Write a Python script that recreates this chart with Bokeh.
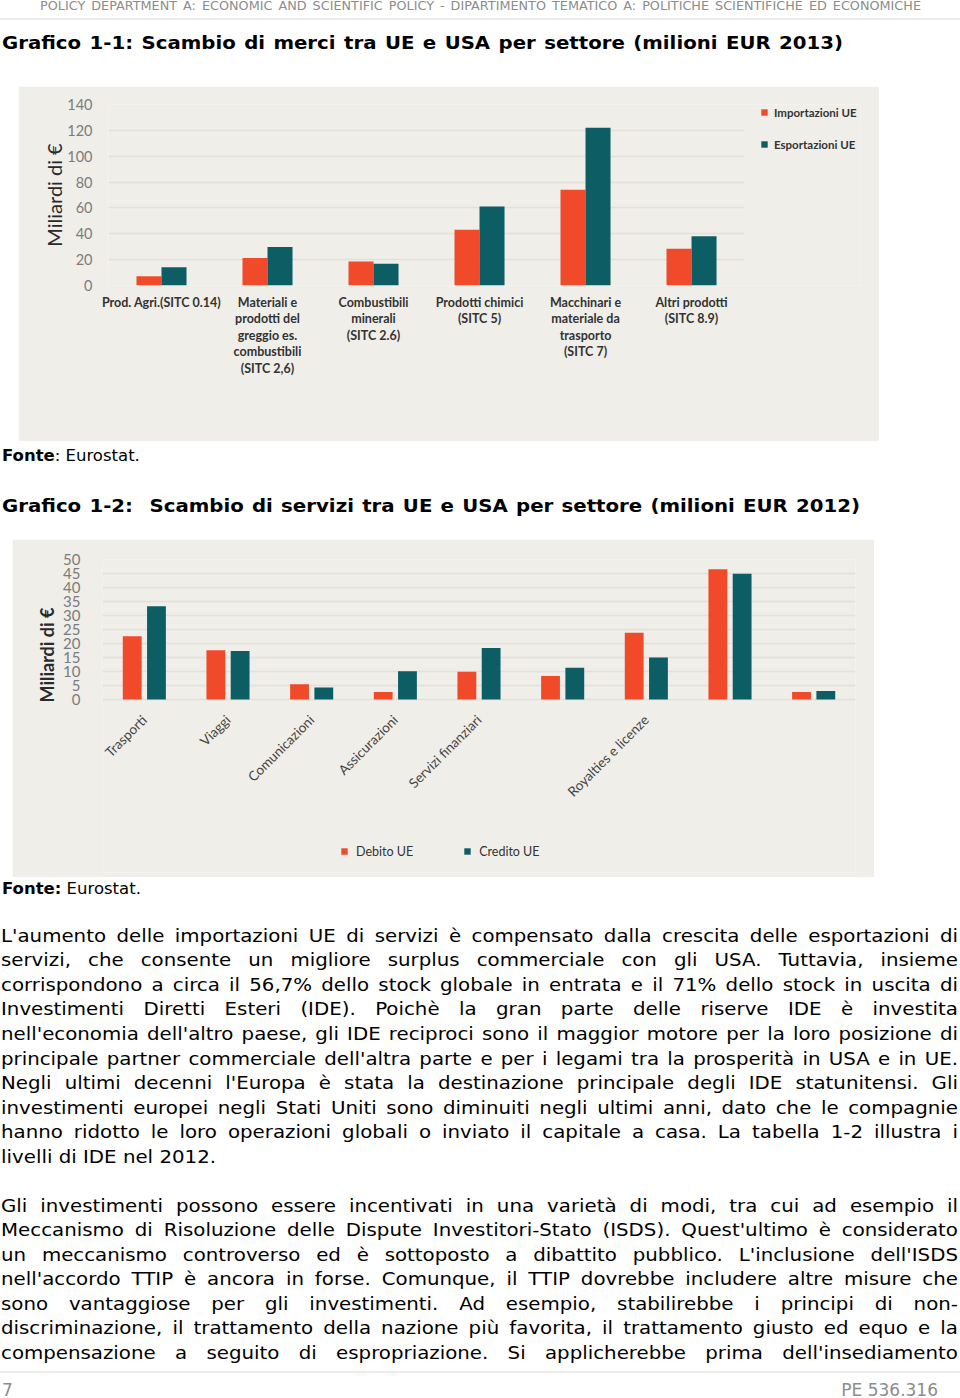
import math
from bokeh.plotting import figure
from bokeh.models import (ColumnDataSource, FixedTicker, Legend, LegendItem, Div, Range1d, Grid, Title)
from bokeh.core.properties import value
from bokeh.layouts import column
from bokeh.transform import dodge
from bokeh.embed import file_html
from bokeh.resources import INLINE

# ---------------- data ----------------
goods_categories = [
    "Prod. Agri.(SITC 0.14)",
    "Materiali e\nprodotti del\ngreggio es.\ncombustibili\n(SITC 2,6)",
    "Combustibili\nminerali\n(SITC 2.6)",
    "Prodotti chimici\n(SITC 5)",
    "Macchinari e\nmateriale da\ntrasporto\n(SITC 7)",
    "Altri prodotti\n(SITC 8.9)",
]
goods_imports = [7.2, 21.2, 18.6, 43.1, 74.1, 28.4]
goods_exports = [14.2, 29.7, 16.8, 61.2, 122.1, 38.0]
goods_yticks = [0, 20, 40, 60, 80, 100, 120, 140]

# three sectors have no visible label in the original: unique blank factors
services_categories = ["Trasporti", "Viaggi", "Comunicazioni", "Assicurazioni", "Servizi finanziari",
                       " ", "Royalties e licenze", "  ", "   "]
services_debit = [22.6, 17.6, 5.4, 2.7, 9.9, 8.4, 23.8, 46.5, 2.7]
services_credit = [33.3, 17.3, 4.3, 10.1, 18.4, 11.3, 15.0, 44.9, 3.0]
services_yticks = [0, 5, 10, 15, 20, 25, 30, 35, 40, 45, 50]

# ---------------- styles ----------------
BG = "#efeee9"
RED = "#f04a2a"
TEAL = "#0d5d65"
GRID = "#e1e0db"
CFONT = "Lato"
PFONT = "DejaVu Sans"
HAS_CROSS = "cross_bounds" in Grid.properties()


def style_axes(p, yticks, ytick_size, ystandoff):
    p.xgrid.grid_line_color = None
    p.ygrid.grid_line_color = GRID
    p.ygrid.grid_line_width = 1.5
    p.ygrid.ticker = FixedTicker(ticks=yticks)
    p.yaxis.ticker = FixedTicker(ticks=yticks)
    for ax in (p.xaxis[0], p.yaxis[0]):
        ax.axis_line_color = None
        ax.major_tick_line_color = None
        ax.minor_tick_line_color = None
    p.yaxis.major_label_text_font = CFONT
    p.yaxis.major_label_text_font_size = ytick_size
    p.yaxis.major_label_text_color = "#7c7c7c"
    p.yaxis.major_label_standoff = ystandoff


# ---------------- chart 1 ----------------
# category slots 0..6 on a numeric axis; the frame continues to the right for the legend
goods_x = [i + 0.5 for i in range(len(goods_categories))]
src1 = ColumnDataSource(dict(x=goods_x, imp=goods_imports, exp=goods_exports))
p1 = figure(x_range=Range1d(0, 7.094), y_range=(0, 140), width=861, height=355,
            output_backend="svg", toolbar_location=None,
            min_border_left=90, min_border_right=0, min_border_top=18, min_border_bottom=156,
            background_fill_color=BG, border_fill_color=BG, outline_line_color=None,
            margin=(0, 0, 0, 18))
r1a = p1.vbar(x=dodge("x", -0.118), top="imp", width=0.236, source=src1, fill_color=RED, line_color=None)
r1b = p1.vbar(x=dodge("x", 0.118), top="exp", width=0.236, source=src1, fill_color=TEAL, line_color=None)
style_axes(p1, goods_yticks, "14.5px", 10)
p1.yaxis.axis_label = "Miliardi di €"
p1.yaxis.axis_label_text_font = CFONT
p1.yaxis.axis_label_text_font_size = "20px"
p1.yaxis.axis_label_text_font_style = "normal"
p1.yaxis.axis_label_text_color = "#2a2a2a"
p1.yaxis.axis_label_standoff = -2
if HAS_CROSS:
    p1.ygrid.cross_bounds = (0, len(goods_categories))
p1.xaxis.ticker = FixedTicker(ticks=goods_x)
p1.xaxis.major_label_overrides = {x: lab for x, lab in zip(goods_x, goods_categories)}
p1.xaxis.major_label_text_font = CFONT
p1.xaxis.major_label_text_font_style = "bold"
p1.xaxis.major_label_text_font_size = "12.5px"
p1.xaxis.major_label_text_color = "#333333"
p1.xaxis.major_label_text_line_height = 1.1
p1.xaxis.major_label_standoff = 3
leg1 = Legend(items=[LegendItem(label="Importazioni UE", renderers=[r1a]),
                     LegendItem(label="Esportazioni UE", renderers=[r1b])],
              location=(652, 133), orientation="vertical",
              label_text_font=CFONT, label_text_font_style="bold", label_text_font_size="11.5px",
              label_text_color="#333333", glyph_width=8, glyph_height=8, label_height=16,
              spacing=16, padding=0, margin=0, label_standoff=6,
              background_fill_alpha=0, border_line_color=None)
p1.add_layout(leg1)

# ---------------- chart 2 ----------------
# frame reaches the bottom of the panel so that the legend sits inside it
src2 = ColumnDataSource(dict(cat=services_categories, deb=services_debit, cre=services_credit,
                             zero=[0] * len(services_categories)))
p2 = figure(x_range=services_categories, y_range=Range1d(-61.8, 50), width=862, height=338,
            output_backend="svg", toolbar_location=None,
            min_border_left=78, min_border_right=19, min_border_top=20, min_border_bottom=5,
            background_fill_color=BG, border_fill_color=BG, outline_line_color=None,
            margin=(0, 0, 0, 12))
r2a = p2.vbar(x=dodge("cat", -0.145, range=p2.x_range), top="deb", width=0.225,
              source=src2, fill_color=RED, line_color=None)
r2b = p2.vbar(x=dodge("cat", 0.145, range=p2.x_range), top="cre", width=0.225,
              source=src2, fill_color=TEAL, line_color=None)
style_axes(p2, services_yticks, "15px", 16)
p2.add_layout(Title(text="Miliardi di €", align="left", offset=170, standoff=6,
                    text_font=CFONT, text_font_size="18px", text_font_style="bold",
                    text_color="#2a2a2a"), "left")
p2.xaxis.visible = False
p2.text(x="cat", y="zero", text="cat", source=src2, angle=math.pi / 4,
        text_align="right", text_baseline="middle", x_offset=0, y_offset=18,
        text_font=value(CFONT), text_font_size="13.5px", text_color="#444444")
leg2 = Legend(items=[LegendItem(label="Debito UE", renderers=[r2a]),
                     LegendItem(label="Credito UE", renderers=[r2b])],
              location=(238, 13), orientation="horizontal",
              label_text_font=CFONT, label_text_font_size="12.5px",
              label_text_color="#333333", glyph_width=8, glyph_height=8, label_height=16,
              spacing=50, padding=0, margin=0, label_standoff=8,
              background_fill_alpha=0, border_line_color=None)
p2.add_layout(leg2)

# ---------------- page text ----------------
_W = {' ': 0.318, 'a': 0.613, 'b': 0.635, 'c': 0.550, 'd': 0.635, 'e': 0.615, 'f': 0.352, 'g': 0.635,
      'h': 0.634, 'i': 0.278, 'j': 0.278, 'k': 0.579, 'l': 0.278, 'm': 0.974, 'n': 0.634, 'o': 0.612,
      'p': 0.635, 'q': 0.635, 'r': 0.411, 's': 0.521, 't': 0.392, 'u': 0.634, 'v': 0.592, 'w': 0.818,
      'x': 0.592, 'y': 0.592, 'z': 0.525, 'A': 0.684, 'B': 0.686, 'C': 0.698, 'D': 0.770, 'E': 0.632,
      'F': 0.575, 'G': 0.775, 'H': 0.752, 'I': 0.295, 'J': 0.295, 'K': 0.656, 'L': 0.557, 'M': 0.863,
      'N': 0.748, 'O': 0.787, 'P': 0.603, 'Q': 0.787, 'R': 0.695, 'S': 0.635, 'T': 0.611, 'U': 0.732,
      'V': 0.684, 'W': 0.989, 'X': 0.685, 'Y': 0.611, 'Z': 0.685, ',': 0.318, '.': 0.318, "'": 0.275,
      '(': 0.390, ')': 0.390, '-': 0.361, '%': 0.950, ':': 0.337}
_ACC = {'è': 'e', 'é': 'e', 'à': 'a', 'ù': 'u', 'ò': 'o', 'ì': 'i'}


def text_w(txt, size, bold=False):
    tot = 0.0
    for ch in txt:
        ch = _ACC.get(ch, ch)
        tot += 0.636 if ch.isdigit() else _W.get(ch, 0.6)
    return tot * size * (1.12 if bold else 1.0)


def line(txt, left, cy, width, size, scale=1.0, lh=24.5, bold=False, color="#000000",
         justify=True, align="left", html=None):
    top = cy - lh / 2
    inner_w = width / scale
    origin = "0 50%" if align == "left" else "100% 50%"
    lft = left if align == "left" else left + width - inner_w
    st = (f"position:absolute;left:{lft:.2f}px;top:{top:.2f}px;width:{inner_w:.2f}px;height:{lh}px;"
          f"line-height:{lh}px;font-size:{size}px;color:{color};font-family:'{PFONT}';"
          f"font-weight:{'bold' if bold else 'normal'};transform:scaleX({scale:.4f});"
          f"transform-origin:{origin};")
    if justify:
        st += "text-align:justify;text-align-last:justify;"
    else:
        st += f"white-space:nowrap;text-align:{align};"
    return f'<div style="{st}">{html if html else txt}</div>'


def fit_scale(texts, width, size, bold=False, smax=1.3):
    return min([smax] + [0.975 * width / text_w(t, size, bold) for t in texts])


def rule(top):
    return f'<div style="position:absolute;left:0px;top:{top}px;width:960px;height:2px;background:#ececec;"></div>'


def block(parts, h):
    return f'<div style="position:relative;width:960px;height:{h}px;overflow:visible;">' + "".join(parts) + "</div>"


header = "POLICY DEPARTMENT A: ECONOMIC AND SCIENTIFIC POLICY - DIPARTIMENTO TEMATICO A: POLITICHE SCIENTIFICHE ED ECONOMICHE"
title1 = "Grafico 1-1: Scambio di merci tra UE e USA per settore (milioni EUR 2013)"
title2 = "Grafico 1-2:  Scambio di servizi tra UE e USA per settore (milioni EUR 2012)"

para1 = [
    "L'aumento delle importazioni UE di servizi è compensato dalla crescita delle esportazioni di",
    "servizi, che consente un migliore surplus commerciale con gli USA. Tuttavia, insieme",
    "corrispondono a circa il 56,7% dello stock globale in entrata e il 71% dello stock in uscita di",
    "Investimenti Diretti Esteri (IDE). Poichè la gran parte delle riserve IDE è investita",
    "nell'economia dell'altro paese, gli IDE reciproci sono il maggior motore per la loro posizione di",
    "principale partner commerciale dell'altra parte e per i legami tra la prosperità in USA e in UE.",
    "Negli ultimi decenni l'Europa è stata la destinazione principale degli IDE statunitensi. Gli",
    "investimenti europei negli Stati Uniti sono diminuiti negli ultimi anni, dato che le compagnie",
    "hanno ridotto le loro operazioni globali o inviato il capitale a casa. La tabella 1-2 illustra i",
    "livelli di IDE nel 2012.",
]
para2 = [
    "Gli investimenti possono essere incentivati in una varietà di modi, tra cui ad esempio il",
    "Meccanismo di Risoluzione delle Dispute Investitori-Stato (ISDS). Quest'ultimo è considerato",
    "un meccanismo controverso ed è sottoposto a dibattito pubblico. L'inclusione dell'ISDS",
    "nell'accordo TTIP è ancora in forse. Comunque, il TTIP dovrebbe includere altre misure che",
    "sono vantaggiose per gli investimenti. Ad esempio, stabilirebbe i principi di non-",
    "discriminazione, il trattamento della nazione più favorita, il trattamento giusto ed equo e la",
    "compensazione a seguito di espropriazione. Si applicherebbe prima dell'insediamento",
]

HS = 12
sh = fit_scale([header], 881, HS, smax=1.4)
TS = 18.5
st1 = fit_scale([title1], 841, TS, bold=True)
st2 = fit_scale([title2], 858, TS, bold=True)

partsA = [
    line(header, 40, 6, 881, HS, scale=sh, lh=14, color="#8c8c8c"),
    rule(18),
    line(title1, 2, 43, 841, TS, scale=st1, lh=26, bold=True),
]
divA = Div(text=block(partsA, 86), width=960, height=86, margin=(0, 0, 0, 0))

partsC = [
    line("Fonte: Eurostat.", 2, 15, 300, 16.5, lh=22, justify=False, html="<b>Fonte</b>: Eurostat."),
    line(title2, 2, 65, 858, TS, scale=st2, lh=26, bold=True,
         html=title2.replace(":  ", ":&nbsp; ")),
]
divC = Div(text=block(partsC, 98), width=960, height=98, margin=(0, 0, 0, 0))

BODY = 18.5
body_just = para1[:-1] + para2
sb = fit_scale(body_just, 957, BODY, smax=1.2)
partsE = [line("Fonte: Eurostat.", 2, 12, 300, 16.5, lh=22, justify=False,
               html="<b>Fonte:</b> Eurostat.")]
for i, t in enumerate(para1):
    last = (i == len(para1) - 1)
    partsE.append(line(t, 1, 59 + i * 24.56, 957, BODY, scale=sb, justify=not last))
for i, t in enumerate(para2):
    partsE.append(line(t, 1, 329 + i * 24.5, 957, BODY, scale=sb))
partsE.append(rule(494))
partsE.append(line("7", 2, 513, 50, 17, lh=20, color="#8c8c8c", justify=False))
partsE.append(line("PE 536.316", 738, 513, 200, 17, lh=20, color="#8c8c8c", justify=False, align="right"))
divE = Div(text=block(partsE, 521), width=960, height=521, margin=(0, 0, 0, 0))

page = column(divA, p1, divC, p2, divE, spacing=0, margin=(0, 0, 0, 0))

with open("out.html", "w", encoding="utf-8") as f:
    f.write(file_html(page, INLINE))
